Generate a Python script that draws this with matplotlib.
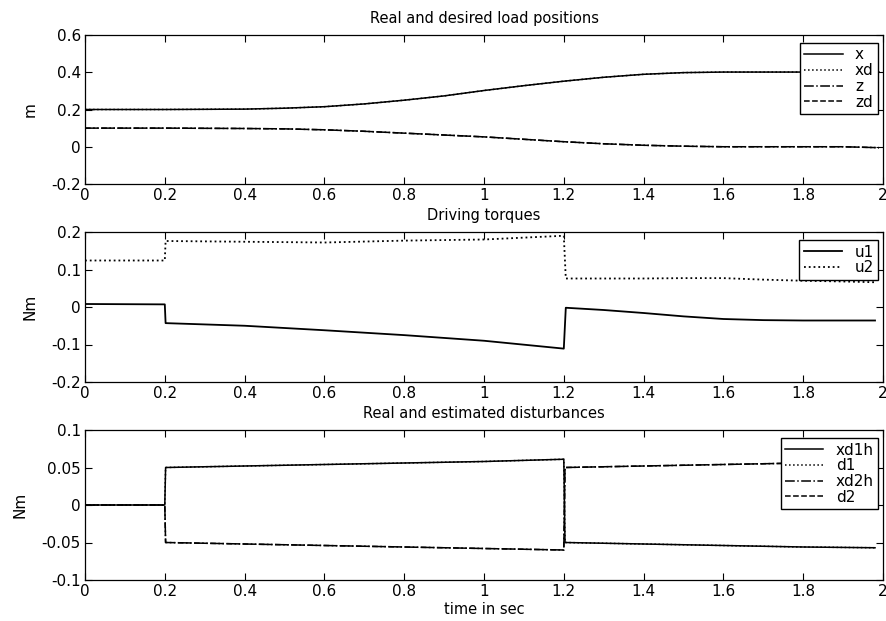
import numpy as np
import matplotlib
matplotlib.use("Agg")
import matplotlib.pyplot as plt
import matplotlib.ticker as ticker

plt.rcParams['font.family'] = ['DejaVu Sans']
plt.rcParams['font.size'] = 10.5

# panel 1: load positions
t_pos = [0, 0.2, 0.4, 0.5, 0.6, 0.7, 0.8, 0.9, 1.0, 1.1, 1.2, 1.3, 1.4, 1.5, 1.6, 1.7, 1.8, 1.9, 1.99]
x_pos = [0.2, 0.2, 0.202, 0.207, 0.215, 0.23, 0.25, 0.273, 0.302, 0.328, 0.352, 0.373, 0.389, 0.398, 0.401, 0.401, 0.401, 0.401, 0.401]
xd_pos = [0.2, 0.2, 0.202, 0.207, 0.215, 0.23, 0.25, 0.273, 0.302, 0.328, 0.352, 0.373, 0.389, 0.398, 0.401, 0.401, 0.401, 0.401, 0.401]
z_pos = [0.1, 0.1, 0.098, 0.096, 0.091, 0.083, 0.073, 0.063, 0.053, 0.04, 0.027, 0.016, 0.008, 0.003, 0.0, 0.0, 0.0, 0.0, -0.005]
zd_pos = [0.1, 0.1, 0.098, 0.096, 0.091, 0.083, 0.073, 0.063, 0.053, 0.04, 0.027, 0.016, 0.008, 0.003, 0.0, 0.0, 0.0, 0.0, -0.005]

# panel 2: driving torques
t_u = [0, 0.2, 0.202, 0.4, 0.6, 0.8, 1.0, 1.2, 1.205, 1.3, 1.4, 1.5, 1.6, 1.7, 1.8, 1.9, 1.98]
u1 = [0.008, 0.007, -0.043, -0.05, -0.062, -0.075, -0.09, -0.111, -0.002, -0.008, -0.016, -0.025, -0.032, -0.035, -0.036, -0.036, -0.036]
u2 = [0.124, 0.124, 0.176, 0.174, 0.172, 0.177, 0.18, 0.19, 0.076, 0.076, 0.076, 0.077, 0.077, 0.073, 0.07, 0.068, 0.066]

# panel 3: real and estimated disturbances
t_d = [0, 0.2, 0.202, 0.4, 0.6, 0.8, 1.0, 1.2, 1.203, 1.4, 1.6, 1.8, 1.98]
xd1h = [0, 0, 0.05, 0.052, 0.054, 0.056, 0.058, 0.061, -0.05, -0.052, -0.054, -0.056, -0.057]
d1 = [0, 0, 0.05, 0.052, 0.054, 0.056, 0.058, 0.061, -0.05, -0.052, -0.054, -0.056, -0.057]
xd2h = [0, 0, -0.05, -0.052, -0.054, -0.056, -0.058, -0.06, 0.05, 0.052, 0.054, 0.056, 0.057]
d2 = [0, 0, -0.05, -0.052, -0.054, -0.056, -0.058, -0.06, 0.05, 0.052, 0.054, 0.056, 0.057]

x_ticks = np.arange(0, 2.01, 0.2)


def fmt(v, _):
    s = f"{v:.2f}".rstrip('0').rstrip('.')
    return "0" if s in ("-0", "0") else s


def style_axes(ax, yticks, ylabel, title):
    ax.set_xlim(0, 2)
    ax.set_ylim(yticks[0], yticks[-1])
    ax.set_xticks(x_ticks)
    ax.set_yticks(yticks)
    ax.xaxis.set_major_formatter(ticker.FuncFormatter(fmt))
    ax.yaxis.set_major_formatter(ticker.FuncFormatter(fmt))
    ax.tick_params(direction='in', top=True, right=True, length=5, width=0.8, labelsize=11, pad=3)
    ax.set_ylabel(ylabel, fontsize=11, labelpad=10)
    ax.set_title(title, fontsize=10.5, pad=8.5)
    for s in ax.spines.values():
        s.set_linewidth(0.9)


fig = plt.figure(figsize=(8.86, 6.21), dpi=100)
W, H = 886, 621
ax1 = fig.add_axes([85 / W, 1 - 184 / H, 798 / W, 149 / H])
ax2 = fig.add_axes([85 / W, 1 - 382 / H, 798 / W, 150 / H])
ax3 = fig.add_axes([85 / W, 1 - 580 / H, 798 / W, 150 / H])

lw = 1.1
ax1.plot(t_pos, x_pos, 'k-', lw=lw, label='x')
ax1.plot(t_pos, xd_pos, 'k:', lw=lw, label='xd')
ax1.plot(t_pos, z_pos, 'k-.', lw=lw, label='z')
ax1.plot(t_pos, zd_pos, 'k--', lw=lw, label='zd')
style_axes(ax1, [-0.2, 0, 0.2, 0.4, 0.6], 'm', 'Real and desired load positions')

ax2.plot(t_u, u1, 'k-', lw=1.3, label='u1')
ax2.plot(t_u, u2, 'k:', lw=1.3, label='u2')
style_axes(ax2, [-0.2, -0.1, 0, 0.1, 0.2], 'Nm', 'Driving torques')

ax3.plot(t_d, xd1h, 'k-', lw=lw, label='xd1h')
ax3.plot(t_d, d1, 'k:', lw=lw, label='d1')
ax3.plot(t_d, xd2h, 'k-.', lw=lw, label='xd2h')
ax3.plot(t_d, d2, 'k--', lw=lw, label='d2')
style_axes(ax3, [-0.1, -0.05, 0, 0.05, 0.1], 'Nm', 'Real and estimated disturbances')
ax3.set_xlabel('time in sec', fontsize=10.5, labelpad=2)

for ax in (ax1, ax2, ax3):
    leg = ax.legend(loc='upper right', bbox_to_anchor=(0.994, 0.947), fontsize=11,
                    frameon=True, fancybox=False, edgecolor='black', framealpha=1,
                    borderpad=0.3, labelspacing=0.05, handlelength=2.5,
                    handletextpad=0.8, borderaxespad=0)
    leg.get_frame().set_linewidth(1.0)

fig.savefig('out.png', dpi=100)
